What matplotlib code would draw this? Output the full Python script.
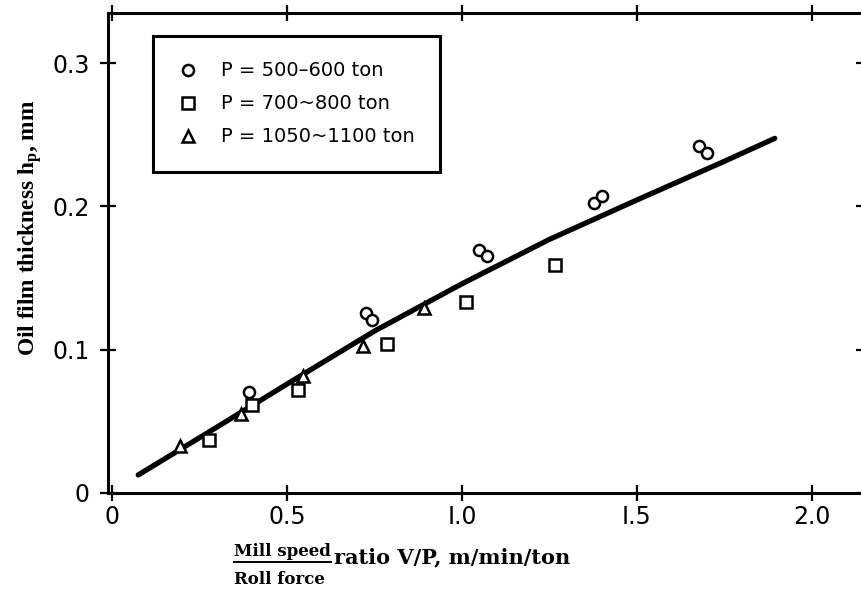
import numpy as np
import matplotlib
matplotlib.use('Agg')
import matplotlib.pyplot as plt
from matplotlib.lines import Line2D

plt.rcParams['mathtext.fontset'] = 'custom'
plt.rcParams['mathtext.rm'] = 'Liberation Serif:bold'
plt.rcParams['mathtext.it'] = 'Liberation Serif:bold'

SANS = ['DejaVu Sans']
SERIF = ['DejaVu Serif']

# measured points, V/P (m/min/ton) vs oil film thickness (mm)
circ_x = [0.392, 0.726, 0.742, 1.049, 1.071, 1.377, 1.399, 1.678, 1.699]
circ_y = [0.0707, 0.1258, 0.1207, 0.1696, 0.1654, 0.2022, 0.2073, 0.2421, 0.2375]
sq_x = [0.278, 0.399, 0.532, 0.787, 1.011, 1.266]
sq_y = [0.037, 0.0614, 0.0719, 0.104, 0.1335, 0.159]
tri_x = [0.194, 0.370, 0.547, 0.718, 0.891]
tri_y = [0.0328, 0.055, 0.0816, 0.1026, 0.129]

# fitted curve
fit_x = [0.075, 0.3, 0.5, 0.75, 1.0, 1.25, 1.5, 1.75, 1.894]
fit_y = [0.0126, 0.046, 0.076, 0.113, 0.146, 0.177, 0.2045, 0.2315, 0.2475]

labels = ['P = 500\u2013600 ton', 'P = 700~800 ton', 'P = 1050~1100 ton']
xticks = [0, 0.5, 1.0, 1.5, 2.0]
xticklabels = ['0', '0.5', 'I.0', 'I.5', '2.0']
yticks = [0, 0.1, 0.2, 0.3]
yticklabels = ['0', '0.1', '0.2', '0.3']

fig = plt.figure(figsize=(8.62, 6.06), dpi=100)
ax = fig.add_axes([108 / 862, 1 - 493 / 606, (864 - 108) / 862, 480 / 606])

ax.plot(fit_x, fit_y, color='black', lw=3.8, solid_capstyle='round')
mk = dict(ls='none', mfc='white', mec='black', mew=1.8)
ax.plot(circ_x, circ_y, marker='o', ms=8, label=labels[0], **mk)
ax.plot(sq_x, sq_y, marker='s', ms=8.5, label=labels[1], **mk)
ax.plot(tri_x, tri_y, marker='^', ms=9, label=labels[2], **mk)

ax.set_xlim(-0.0114, 2.149)
ax.set_ylim(0, 0.335)
ax.set_xticks(xticks)
ax.set_xticklabels(xticklabels, family=SANS, fontsize=17)
ax.set_yticks(yticks)
ax.set_yticklabels(yticklabels, family=SANS, fontsize=17)
ax.tick_params(direction='inout', length=12, width=1.6, top=True, right=True)
ax.tick_params(axis='x', pad=3)
ax.tick_params(axis='y', pad=7)
for s in ax.spines.values():
    s.set_linewidth(2.2)

leg = ax.legend(loc='upper left', bbox_to_anchor=(0.06, 0.952), frameon=True,
                fancybox=False, edgecolor='black', framealpha=1,
                prop={'family': SANS, 'size': 14}, handlelength=1.0,
                handletextpad=1.2, borderpad=1.3, labelspacing=0.72,
                borderaxespad=0)
leg.get_frame().set_linewidth(2.2)

fig.text(30 / 862, 1 - 228 / 606, 'Oil film thickness h$_\\mathrm{p}$, mm',
         rotation=90, ha='center', va='center', family=['Liberation Serif'],
         fontweight='bold', fontsize=16.8)

t1 = fig.text(234 / 862, 1 - 551 / 606, 'Mill speed', ha='left', va='center',
              family=SERIF, fontweight='bold', fontsize=12)
fig.text(234 / 862, 1 - 580 / 606, 'Roll force', ha='left', va='center',
         family=SERIF, fontweight='bold', fontsize=12)
fig.text(334 / 862, 1 - 557 / 606, 'ratio V/P, m/min/ton', ha='left', va='center',
         family=SERIF, fontweight='bold', fontsize=15)

fig.canvas.draw()
bb = t1.get_window_extent().transformed(fig.transFigure.inverted())
fig.add_artist(Line2D([bb.x0, bb.x1], [bb.y0 - 0.004, bb.y0 - 0.004],
                      transform=fig.transFigure, color='black', lw=1.4))

fig.savefig('out.png', dpi=100)
